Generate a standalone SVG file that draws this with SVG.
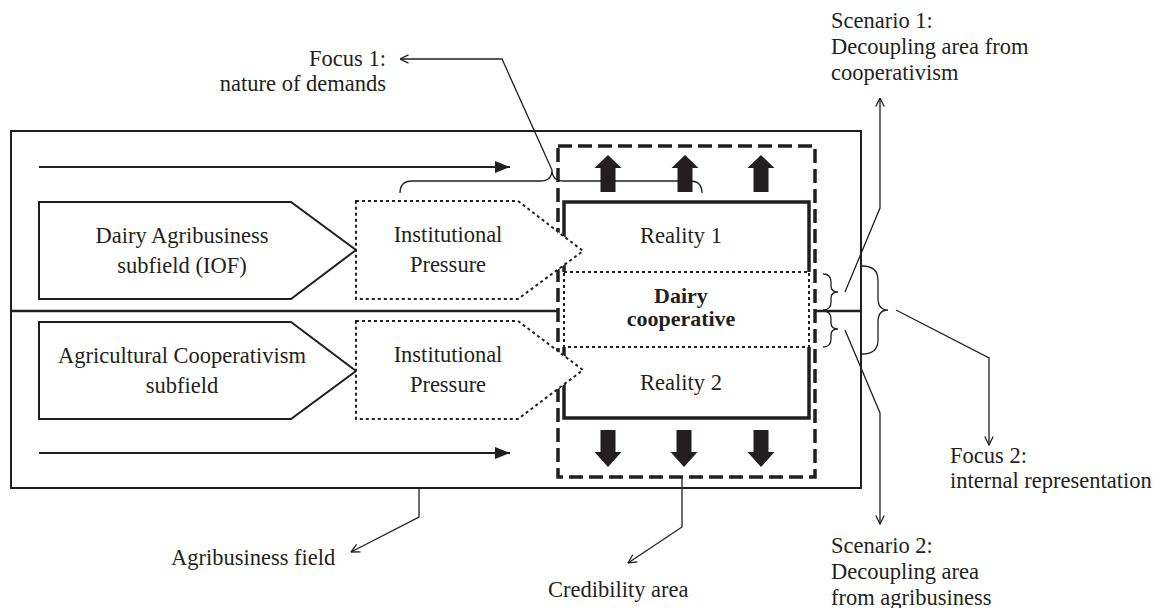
<svg xmlns="http://www.w3.org/2000/svg" width="1174" height="608" viewBox="0 0 1174 608">
  <style>
    .ink { stroke: #231f20; fill: none; }
    .field { stroke-width: 2; }
    .divider { stroke-width: 2.5; }
    .flow { stroke-width: 2; }
    .cred { stroke-width: 3.5; stroke-dasharray: 14 6; }
    .reality { stroke-width: 3.5; }
    .dotted { stroke-width: 2; stroke-dasharray: 3 3; }
    .subfield { stroke: #231f20; stroke-width: 2; fill: #ffffff; }
    .pressure { stroke: #231f20; stroke-width: 2; stroke-dasharray: 3 3; fill: #ffffff; }
    .note { stroke: #231f20; stroke-width: 1.3; fill: none; }
    .block { fill: #231f20; }
    text { font-family: "Liberation Serif", "Times New Roman", serif; font-size: 22.5px; fill: #231f20; }
    .mid { text-anchor: middle; }
    .end { text-anchor: end; }
    .bold { font-weight: bold; font-size: 22px; }
  </style>
  <defs>
    <marker id="solidHead" viewBox="0 0 15 12" refX="15" refY="6" markerWidth="15" markerHeight="12" markerUnits="userSpaceOnUse" orient="auto">
      <path d="M0,0 L15,6 L0,12 Z" fill="#231f20"/>
    </marker>
    <marker id="openHead" viewBox="0 0 10 10" refX="9.5" refY="5" markerWidth="10" markerHeight="10" markerUnits="userSpaceOnUse" orient="auto">
      <path d="M1,0.8 L9.5,5 L1,9.2" fill="none" stroke="#231f20" stroke-width="1.3"/>
    </marker>
    <path id="upArrow" d="M0,0 L13.5,13 L7.5,13 L7.5,37 L-7.5,37 L-7.5,13 L-13.5,13 Z"/>
    <path id="downArrow" d="M-7.5,0 L7.5,0 L7.5,22 L13.5,22 L0,37 L-13.5,22 L-7.5,22 Z"/>
  </defs>

  <rect width="1174" height="608" fill="#ffffff"/>

  <!-- agribusiness field frame with the dividing line between subfields -->
  <g id="agribusiness-field">
    <rect class="ink field" x="11" y="131" width="850" height="357"/>
    <line class="ink divider" x1="11" y1="311" x2="558" y2="311"/>
    <line class="ink divider" x1="815" y1="311" x2="861" y2="311"/>
  </g>

  <!-- horizontal flow arrows across the field -->
  <g id="flows">
    <line class="ink flow" x1="39" y1="167" x2="510" y2="167" marker-end="url(#solidHead)"/>
    <line class="ink flow" x1="39" y1="453" x2="510" y2="453" marker-end="url(#solidHead)"/>
  </g>

  <!-- credibility area -->
  <g id="credibility-area">
    <rect class="ink cred" x="558" y="146" width="257" height="331"/>
  </g>

  <!-- nature-of-demands brace over the top of the cooperative -->
  <g id="focus1-brace">
    <path class="note" d="M400,193 Q400,181 412,181 L540,181 Q552,181 552,170 Q552,181 564,181 L690,181 Q702,181 702,193"/>
  </g>

  <!-- dairy cooperative: two realities around the core -->
  <g id="reality-1">
    <path class="ink reality" d="M564,272 L564,202 L809,202 L809,272"/>
    <text class="mid" x="681" y="243">Reality 1</text>
  </g>
  <g id="dairy-cooperative">
    <rect class="ink dotted" x="564" y="272" width="245" height="75"/>
    <text class="mid bold" x="681" y="303">Dairy</text>
    <text class="mid bold" x="681" y="326">cooperative</text>
  </g>
  <g id="reality-2">
    <path class="ink reality" d="M564,347 L564,418 L809,418 L809,347"/>
    <text class="mid" x="681" y="390">Reality 2</text>
  </g>

  <!-- outward pushes of each reality -->
  <g id="pushes" class="block">
    <use href="#upArrow" x="608" y="155"/>
    <use href="#upArrow" x="685" y="155"/>
    <use href="#upArrow" x="761" y="155"/>
    <use href="#downArrow" x="608" y="430"/>
    <use href="#downArrow" x="684" y="430"/>
    <use href="#downArrow" x="761" y="430"/>
  </g>

  <!-- subfields -->
  <g id="dairy-agribusiness-subfield">
    <polygon class="subfield" points="39,202 291,202 356,250 291,299 39,299"/>
    <text class="mid" x="182" y="243">Dairy Agribusiness</text>
    <text class="mid" x="182" y="273">subfield (IOF)</text>
  </g>
  <g id="agricultural-cooperativism-subfield">
    <polygon class="subfield" points="39,322 291,322 356,371 291,419 39,419"/>
    <text class="mid" x="182" y="363">Agricultural Cooperativism</text>
    <text class="mid" x="182" y="393">subfield</text>
  </g>

  <!-- institutional pressures -->
  <g id="institutional-pressure-1">
    <polygon class="pressure" points="356,201 518,201 583,251 518,299 356,299"/>
    <text class="mid" x="448" y="242">Institutional</text>
    <text class="mid" x="448" y="272">Pressure</text>
  </g>
  <g id="institutional-pressure-2">
    <polygon class="pressure" points="356,321 518,321 583,370 518,419 356,419"/>
    <text class="mid" x="448" y="362">Institutional</text>
    <text class="mid" x="448" y="392">Pressure</text>
  </g>

  <!-- braces on the right of the cooperative -->
  <g id="decoupling-braces">
    <path class="note" d="M823,274 Q831,274 831,282 L831,286 Q831,292 838,292 Q831,292 831,298 L831,302 Q831,310 823,310"/>
    <path class="note" d="M823,311 Q831,311 831,319 L831,323 Q831,329 838,329 Q831,329 831,335 L831,339 Q831,347 823,347"/>
    <path class="note" d="M862,266 Q878,266 878,280 L878,298 Q878,310 888,310 Q878,310 878,322 L878,340 Q878,354 862,354"/>
  </g>

  <!-- annotation connectors -->
  <g id="connectors">
    <polyline class="note" points="552,170 502,59 400,59" marker-end="url(#openHead)"/>
    <polyline class="note" points="845,292 880,208 880,98" marker-end="url(#openHead)"/>
    <polyline class="note" points="845,330 880,413 880,524" marker-end="url(#openHead)"/>
    <polyline class="note" points="896,310 989,358 989,445" marker-end="url(#openHead)"/>
    <polyline class="note" points="419,488 419,517 351,552" marker-end="url(#openHead)"/>
    <polyline class="note" points="682,477 682,527 628,563" marker-end="url(#openHead)"/>
  </g>

  <!-- annotation labels -->
  <g id="label-focus1">
    <text class="end" x="386" y="66">Focus 1:</text>
    <text class="end" x="386" y="91">nature of demands</text>
  </g>
  <g id="label-scenario1">
    <text x="831" y="28">Scenario 1:</text>
    <text x="831" y="54">Decoupling area from</text>
    <text x="831" y="80">cooperativism</text>
  </g>
  <g id="label-focus2">
    <text x="950" y="463">Focus 2:</text>
    <text x="950" y="488">internal representation</text>
  </g>
  <g id="label-scenario2">
    <text x="831" y="553">Scenario 2:</text>
    <text x="831" y="579">Decoupling area</text>
    <text x="831" y="605">from agribusiness</text>
  </g>
  <g id="label-agribusiness-field">
    <text x="171" y="565">Agribusiness field</text>
  </g>
  <g id="label-credibility-area">
    <text x="548" y="597">Credibility area</text>
  </g>
</svg>
